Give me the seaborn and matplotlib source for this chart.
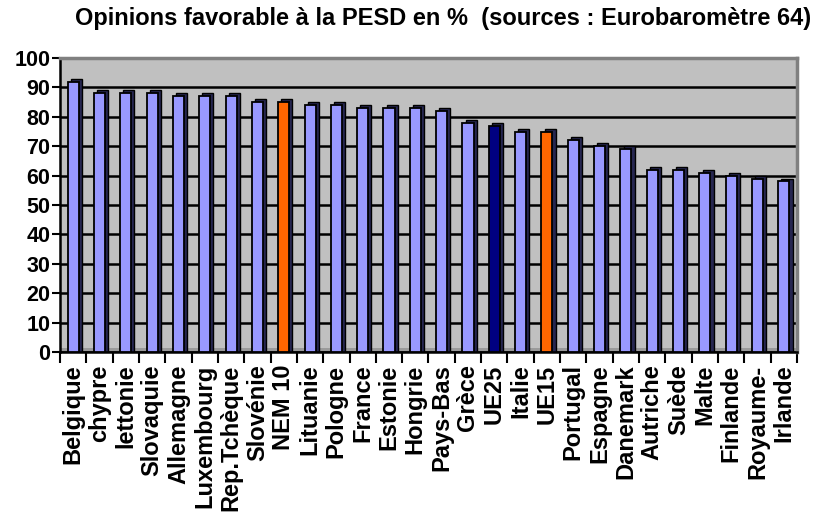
import matplotlib
matplotlib.use("Agg")
import matplotlib.pyplot as plt
import seaborn as sns
import numpy as np
import pandas as pd

categories = ["Belgique", "chypre", "lettonie", "Slovaquie", "Allemagne", "Luxembourg",
              "Rep.Tchèque", "Slovénie", "NEM 10", "Lituanie", "Pologne", "France",
              "Estonie", "Hongrie", "Pays-Bas", "Grèce", "UE25", "Italie", "UE15",
              "Portugal", "Espagne", "Danemark", "Autriche", "Suède", "Malte",
              "Finlande", "Royaume-", "Irlande"]
values = [92, 88, 88, 88, 87, 87, 87, 85, 85, 84, 84, 83, 83, 83, 82, 78, 77, 75, 75,
          72, 70, 69, 62, 62, 61, 60, 59, 58]
y_ticks = [0, 10, 20, 30, 40, 50, 60, 70, 80, 90, 100]
title = "Opinions favorable à la PESD en %  (sources : Eurobaromètre 64)"

special = {"NEM 10": "#FF6600", "UE15": "#FF6600", "UE25": "#000080"}
palette = {c: special.get(c, "#9999FF") for c in categories}

df = pd.DataFrame({"pays": categories, "valeur": values})

sns.set_theme(style="white")
plt.rcParams["font.family"] = ["Liberation Sans", "DejaVu Sans"]
plt.rcParams["font.weight"] = "bold"
plt.rcParams["text.color"] = "black"
plt.rcParams["xtick.color"] = "black"
plt.rcParams["ytick.color"] = "black"
plt.rcParams["xtick.labelcolor"] = "black"
plt.rcParams["ytick.labelcolor"] = "black"

fig = plt.figure(figsize=(8.14, 5.30), dpi=100)
ax = fig.add_axes([60 / 814, (530 - 352) / 530, (797 - 60) / 814, (352 - 58) / 530])
ax.set_facecolor("#C0C0C0")

# floor strip
ax.axhspan(0, 1.3, color="#9A9A9A", zorder=0.5, lw=0)

x = np.arange(len(categories))
# depth (side + top faces)
ax.bar(x + 0.12, np.array(values) + 1.0, width=0.42, color="#262650",
       edgecolor="black", linewidth=1.0, zorder=2)

sns.barplot(data=df, x="pays", y="valeur", hue="pays", palette=palette, legend=False,
            width=0.42, edgecolor="black", linewidth=1.3, saturation=1, ax=ax, zorder=3)

ax.set_xlim(-0.5, len(categories) - 0.5)
ax.set_ylim(0, 100)
ax.set_yticks(y_ticks)
ax.set_yticklabels([str(v) for v in y_ticks], fontsize=15.5, fontweight="bold", color="black")
ax.yaxis.grid(True, color="black", linewidth=1.8)
ax.xaxis.grid(False)
ax.set_axisbelow(True)

ax.set_xticks(x)
ax.set_xticklabels(categories, rotation=90, fontsize=17, fontweight="bold", va="top",
                   ha="center", color="black")
ax.set_xticks(np.arange(-0.5, len(categories), 1.0), minor=True)
ax.tick_params(axis="x", which="major", length=0, pad=9)
ax.tick_params(axis="x", which="minor", length=8, width=1.5, color="black", bottom=True)
ax.tick_params(axis="y", which="major", length=6, width=1.5, color="black", left=True, pad=1)
ax.set_xlabel("")
ax.set_ylabel("")

for s in ["left", "bottom"]:
    ax.spines[s].set_color("black")
    ax.spines[s].set_linewidth(1.8)
for s in ["top", "right"]:
    ax.spines[s].set_color("#808080")
    ax.spines[s].set_linewidth(2.5)

fig.text(443 / 814, 1 - 19 / 530, title, ha="center", va="center",
         fontsize=17, fontweight="bold", color="black")

fig.savefig("out.png", dpi=100)
